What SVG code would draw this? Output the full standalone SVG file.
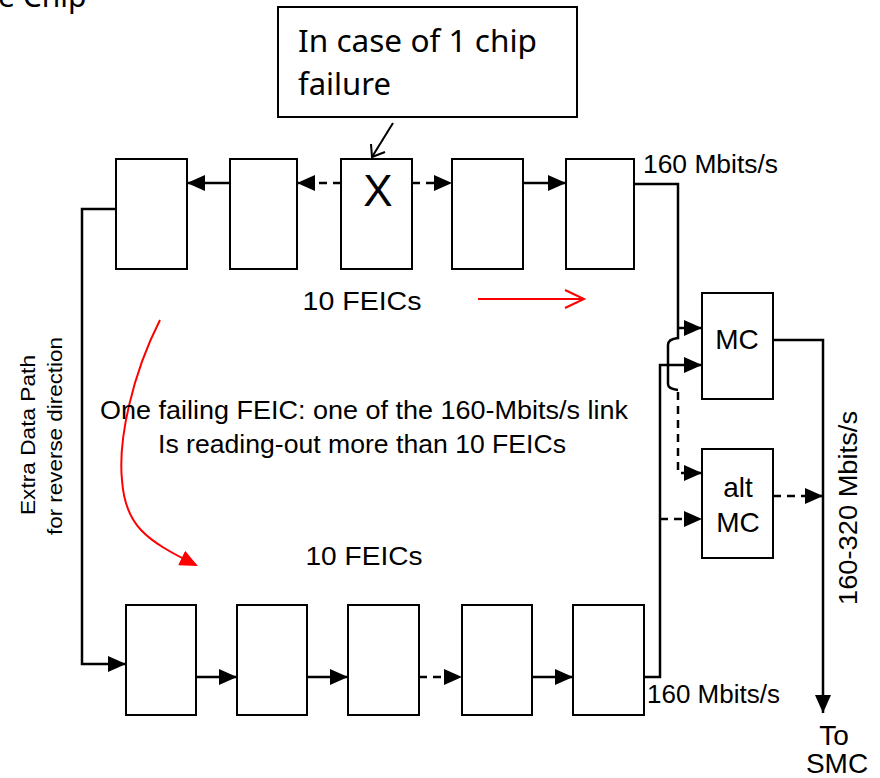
<svg xmlns="http://www.w3.org/2000/svg" width="880" height="778" viewBox="0 0 880 778">
<style>
.box{fill:#fff;stroke:#000;stroke-width:2}
.ln{fill:none;stroke:#000;stroke-width:2.5}
.dash{stroke-dasharray:8,6}
.t{font-family:"Liberation Sans",Arial,sans-serif;fill:#000}
.c{font-family:"Noto Sans","Open Sans",sans-serif;fill:#000}
.red{fill:none;stroke:#f00;stroke-width:2}
</style>
<defs>
<marker id="ah" markerWidth="18" markerHeight="16" refX="18" refY="8" orient="auto" markerUnits="userSpaceOnUse"><path d="M0,0 L18,8 L0,16 z" fill="#000"/></marker>
<marker id="rh" markerWidth="18" markerHeight="16" refX="16" refY="8" orient="auto" markerUnits="userSpaceOnUse"><path d="M0,0 L18,8 L0,16 z" fill="#f00"/></marker>
</defs>

<text class="c" x="-2" y="7" font-size="30">e Chip</text>

<g id="callout">
<rect class="box" x="278" y="7" width="299" height="110"/>
<text class="c" x="298" y="52" font-size="30" textLength="239" lengthAdjust="spacingAndGlyphs">In case of 1 chip</text>
<text class="c" x="298" y="95" font-size="30" textLength="93" lengthAdjust="spacingAndGlyphs">failure</text>
</g>

<g id="top-row">
<g id="t1"><rect class="box" x="116" y="159" width="71" height="110"/></g>
<g id="t2"><rect class="box" x="230" y="159" width="67" height="110"/></g>
<g id="t3"><rect class="box" x="341" y="159" width="71" height="110"/><text class="t" x="378" y="206" font-size="44" text-anchor="middle">X</text></g>
<g id="t4"><rect class="box" x="452" y="159" width="71" height="110"/></g>
<g id="t5"><rect class="box" x="566" y="159" width="68" height="110"/></g>
</g>

<g id="bottom-row">
<g id="b1"><rect class="box" x="126" y="605" width="70" height="110"/></g>
<g id="b2"><rect class="box" x="237" y="605" width="70" height="110"/></g>
<g id="b3"><rect class="box" x="348" y="605" width="71" height="110"/></g>
<g id="b4"><rect class="box" x="462" y="605" width="70" height="110"/></g>
<g id="b5"><rect class="box" x="573" y="605" width="71" height="110"/></g>
</g>

<g id="mc"><rect class="box" x="702" y="293" width="71" height="106"/><text class="t" x="737" y="349" font-size="28" text-anchor="middle">MC</text></g>
<g id="altmc"><rect class="box" x="702" y="449" width="71" height="109"/><text class="t" x="738" y="497" font-size="28" text-anchor="middle">alt</text><text class="t" x="738" y="532" font-size="28" text-anchor="middle">MC</text></g>

<g id="connectors">
<line x1="393" y1="123" x2="372" y2="157" stroke="#000" stroke-width="2"/>
<polyline points="371,144 372,157 385,152" fill="none" stroke="#000" stroke-width="2"/>

<line class="ln" x1="230" y1="183" x2="187" y2="183" marker-end="url(#ah)"/>
<line class="ln dash" x1="341" y1="183" x2="297" y2="183" marker-end="url(#ah)"/>
<line class="ln dash" x1="412" y1="183" x2="452" y2="183" marker-end="url(#ah)"/>
<line class="ln" x1="523" y1="183" x2="566" y2="183" marker-end="url(#ah)"/>

<path class="ln" d="M116,209 H82 V664 H126" marker-end="url(#ah)"/>
<line class="ln" x1="196" y1="677" x2="237" y2="677" marker-end="url(#ah)"/>
<line class="ln" x1="307" y1="677" x2="348" y2="677" marker-end="url(#ah)"/>
<line class="ln dash" x1="419" y1="677" x2="462" y2="677" marker-end="url(#ah)"/>
<line class="ln" x1="532" y1="677" x2="573" y2="677" marker-end="url(#ah)"/>

<path class="ln" d="M634,184 H678 V338 Q668,339 668,345 V384 Q668,389 678,390"/>
<line class="ln" x1="678" y1="328" x2="702" y2="328" marker-end="url(#ah)"/>
<path class="ln dash" d="M678,392 V473 H702" marker-end="url(#ah)"/>

<path class="ln" d="M644,677 H660 V365 H702" marker-end="url(#ah)"/>
<line class="ln dash" x1="660" y1="519" x2="702" y2="519" marker-end="url(#ah)"/>

<path class="ln" d="M773,340 H823 V713" marker-end="url(#ah)"/>
<line class="ln dash" x1="773" y1="496" x2="823" y2="496" marker-end="url(#ah)"/>

<line class="red" x1="478" y1="299" x2="583" y2="299"/>
<polyline class="red" points="565,290 584,299 565,308"/>
<path class="red" d="M160,320 C132,375 118,440 122,480 C125,525 145,540 196,565" marker-end="url(#rh)"/>
</g>

<g id="labels">
<text class="t" x="362" y="310" font-size="25" text-anchor="middle" textLength="119" lengthAdjust="spacingAndGlyphs">10 FEICs</text>
<text class="t" x="364" y="565" font-size="25" text-anchor="middle" textLength="117" lengthAdjust="spacingAndGlyphs">10 FEICs</text>
<text class="t" x="643" y="173" font-size="26" textLength="135" lengthAdjust="spacingAndGlyphs">160 Mbits/s</text>
<text class="t" x="647" y="703" font-size="26" textLength="133" lengthAdjust="spacingAndGlyphs">160 Mbits/s</text>
<text class="t" x="100" y="419" font-size="25" textLength="528" lengthAdjust="spacingAndGlyphs">One failing FEIC: one of the 160-Mbits/s link</text>
<text class="t" x="158" y="453" font-size="25" textLength="408" lengthAdjust="spacingAndGlyphs">Is reading-out more than 10 FEICs</text>
<text class="t" font-size="21" text-anchor="middle" transform="translate(35,435) rotate(-90)" textLength="160" lengthAdjust="spacingAndGlyphs">Extra Data Path</text>
<text class="t" font-size="21" text-anchor="middle" transform="translate(62,436) rotate(-90)" textLength="198" lengthAdjust="spacingAndGlyphs">for reverse direction</text>
<text class="t" font-size="26" text-anchor="middle" transform="translate(857,508) rotate(-90)" textLength="194" lengthAdjust="spacingAndGlyphs">160-320 Mbits/s</text>
<text class="t" x="834" y="745" font-size="28" text-anchor="middle">To</text>
<text class="t" x="837" y="773" font-size="28" text-anchor="middle">SMC</text>
</g>
</svg>
